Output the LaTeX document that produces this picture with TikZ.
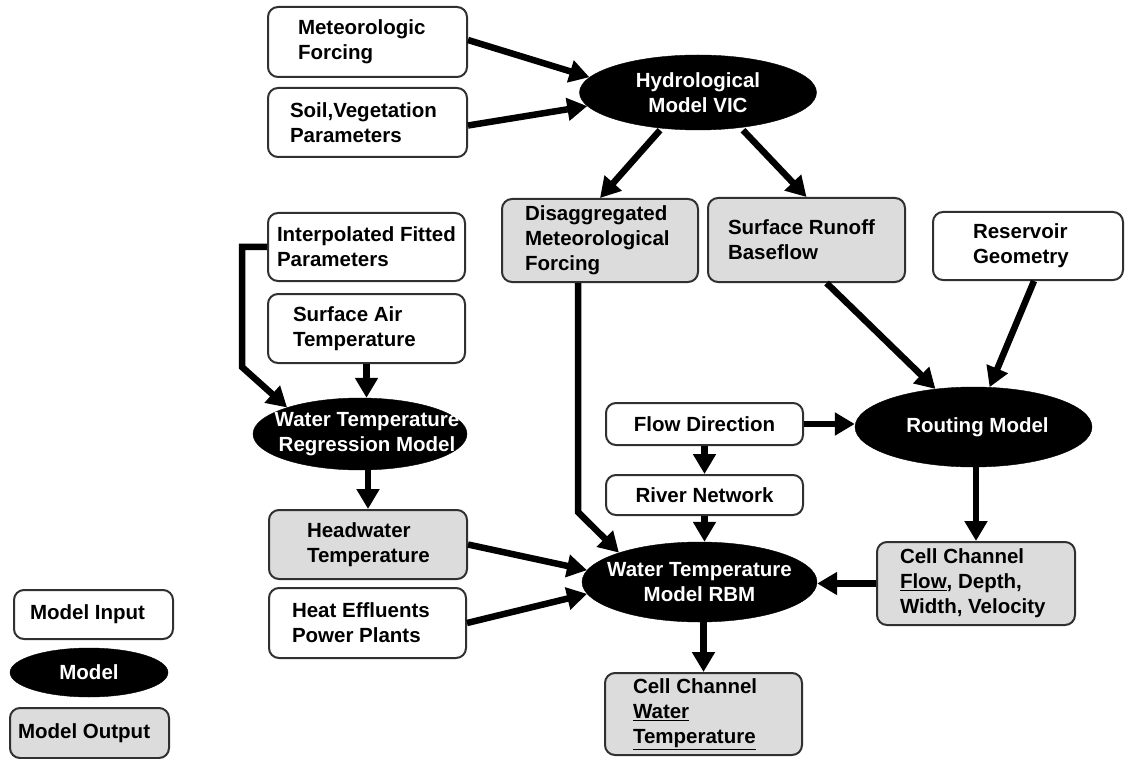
\documentclass[tikz,border=0pt]{standalone}
\usepackage{fontspec}
\setmainfont{Liberation Sans}
\usetikzlibrary{arrows.meta,shapes.geometric}
\definecolor{outgray}{HTML}{DCDCDC}
\definecolor{edgegray}{HTML}{303030}
\newcommand{\ind}[1]{\hspace*{#1pt}}
\tikzset{
  base/.style={draw=edgegray, line width=2pt, rounded corners=10pt, align=flush left,
    inner sep=0pt, font=\bfseries\fontsize{20.5}{25}\selectfont, text=black},
  inbox/.style={base, fill=white},
  outbox/.style={base, fill=outgray},
  model/.style={ellipse, fill=black, draw=black, inner sep=0pt},
  mlabel/.style={text=white, font=\bfseries\fontsize{20.5}{25}\selectfont, align=center},
  flow/.style={line width=6.5pt, line join=miter, -{Triangle[width=22pt,length=20pt]}},
}
\begin{document}
\begin{tikzpicture}[x=1pt,y=-1pt]
\useasboundingbox (0,0) rectangle (1126,759);
% inputs and outputs
\node[inbox, text width=199pt, minimum height=70] (met) at (367.5,42) {\ind{30}Meteorologic\\\ind{30}Forcing};
\node[inbox, text width=199pt, minimum height=69] (soil) at (367.5,122.5) {\ind{22}Soil,Vegetation\\\ind{22}Parameters};
\node[model, minimum width=237, minimum height=75, label={[mlabel]center:Hydrological\\Model VIC}] (vic) at (698,92.5) {};
\node[inbox, text width=197pt, minimum height=68] (interp) at (366.5,247) {\ind{9}Interpolated Fitted\\\ind{9}Parameters};
\node[inbox, text width=197pt, minimum height=69] (sat) at (366.5,328.5) {\ind{25}Surface Air\\\ind{25}Temperature};
\node[model, minimum width=214, minimum height=72, label={[mlabel, xshift=7pt]center:Water Temperature\\Regression Model}] (wtrm) at (360,434) {};
\node[outbox, text width=198pt, minimum height=69] (headw) at (368,544.5) {\ind{38}Headwater\\\ind{38}Temperature};
\node[inbox, text width=197pt, minimum height=70] (heat) at (367.5,623) {\ind{23}Heat Effluents\\\ind{23}Power Plants};
\node[outbox, text width=196pt, minimum height=83] (disagg) at (600,240.5) {\ind{23}Disaggregated\\\ind{23}Meteorological\\\ind{23}Forcing};
\node[outbox, text width=197pt, minimum height=84] (sro) at (806.5,240) {\ind{20}Surface Runoff\\\ind{20}Baseflow};
\node[inbox, text width=190pt, minimum height=68] (res) at (1028,246) {\ind{40}Reservoir\\\ind{40}Geometry};
\node[model, minimum width=237, minimum height=80, label={[mlabel, xshift=4pt]center:Routing Model}] (route) at (973.5,427) {};
\node[inbox, minimum width=197, minimum height=42] (fd) at (704.5,424) {Flow Direction};
\node[inbox, minimum width=197, minimum height=40] (rn) at (704.5,495) {River Network};
\node[model, minimum width=235, minimum height=80, label={[mlabel]center:Water Temperature\\Model RBM}] (rbm) at (699.5,582) {};
\node[outbox, text width=198pt, minimum height=83] (ccf) at (976,583.5) {\ind{23}Cell Channel\\\ind{23}\underline{Flow}, Depth,\\\ind{23}Width, Velocity};
\node[outbox, text width=197pt, minimum height=82] (out) at (703.5,714) {\ind{28}Cell Channel\\\ind{28}\underline{Water}\\\ind{28}\underline{Temperature}};
% legend
\node[inbox, text width=159pt, minimum height=49] (lin) at (93.5,614.5) {\ind{16}Model Input};
\node[model, minimum width=158, minimum height=49, label={[mlabel]center:Model}] (lmod) at (89,672.5) {};
\node[outbox, text width=159pt, minimum height=50] (lout) at (89.5,733) {\ind{8}Model Output};
% connectors
\coordinate (e1) at (242,247);
\coordinate (e2) at (242,367);
\coordinate (d1) at (578,512);
\draw[flow] ([yshift=2]met.east) -- (vic.172);
\draw[flow] ([yshift=-3]soil.east) -- (vic.187);
\draw[flow] ([xshift=-38]vic.south) -- (disagg.north);
\draw[flow] ([xshift=45]vic.south) -- (sro.north);
\draw[flow] (interp.west) -- (e1) -- (e2) -- (wtrm.160);
\draw[flow] (sat.south) -- (sat.south |- wtrm.north);
\draw[flow] (headw.north |- wtrm.south) -- (headw.north);
\draw[flow] (headw.east) -- (rbm.174);
\draw[flow] (heat.east) -- (rbm.186);
\draw[flow] (d1 |- disagg.south) -- (d1) -- (rbm.160);
\draw[flow] (fd.south) -- (rn.north);
\draw[flow] (fd.east) -- (fd.east -| route.west);
\draw[flow] (rn.south) -- (rn.south |- rbm.north);
\draw[flow] ([xshift=20]sro.south) -- (route.135);
\draw[flow] ([xshift=6]res.south) -- (route.68);
\draw[flow] (ccf.north |- route.south) -- (ccf.north);
\draw[flow] (ccf.west) -- (ccf.west -| rbm.east);
\draw[flow] (out.north |- rbm.south) -- (out.north);
\end{tikzpicture}
\end{document}
